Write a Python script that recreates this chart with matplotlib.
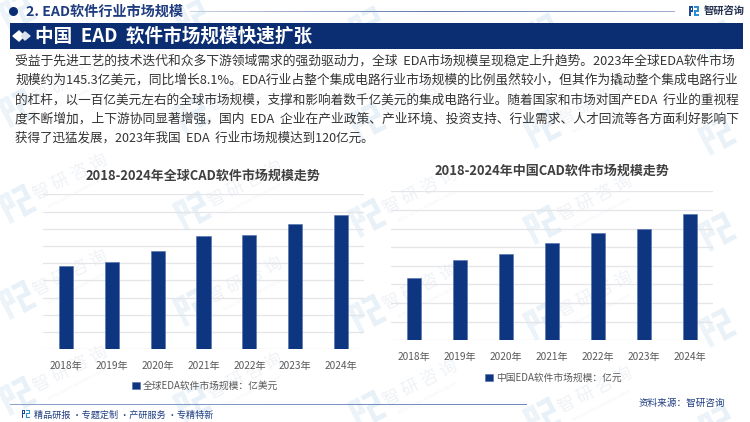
import matplotlib
matplotlib.use('Agg')
import matplotlib.pyplot as plt
from matplotlib.colors import LinearSegmentedColormap
from matplotlib.patches import Rectangle, Circle, Polygon
from matplotlib.transforms import Affine2D
import numpy as np

plt.rcParams['font.family'] = ['Noto Sans CJK SC', 'DejaVu Sans']

## data
years = ['2018年', '2019年', '2020年', '2021年', '2022年', '2023年', '2024年']
world_values = [96.4, 101.8, 114.2, 132.0, 133.2, 145.3, 156.4]
china_values = [66.9, 85.9, 92.7, 104.8, 115.6, 120.0, 135.6]
world_title = '2018-2024年全球CAD软件市场规模走势'
china_title = '2018-2024年中国CAD软件市场规模走势'
world_label = '全球EDA软件市场规模：亿美元'
china_label = '中国EDA软件市场规模：亿元'
paragraph = [
    '受益于先进工艺的技术迭代和众多下游领域需求的强劲驱动力，全球  EDA市场规模呈现稳定上升趋势。2023年全球EDA软件市场',
    '规模约为145.3亿美元，同比增长8.1%。EDA行业占整个集成电路行业市场规模的比例虽然较小，但其作为撬动整个集成电路行业',
    '的杠杆，以一百亿美元左右的全球市场规模，支撑和影响着数千亿美元的集成电路行业。随着国家和市场对国产EDA  行业的重视程',
    '度不断增加，上下游协同显著增强，国内  EDA  企业在产业政策、产业环境、投资支持、行业需求、人才回流等各方面利好影响下',
    '获得了迅猛发展，2023年我国  EDA  行业市场规模达到120亿元。',
]

W, H = 750, 422
NAVY = '#0b2d71'
BAR = '#0d3580'
fig = plt.figure(figsize=(W / 100, H / 100), dpi=100)

# whole-figure canvas in pixel coordinates
bg = fig.add_axes([0, 0, 1, 1], zorder=0)
bg.set_xlim(0, W)
bg.set_ylim(H, 0)
bg.axis('off')


def logo(ax, x, y, s, c1, c2, zorder=1, tr=None):
    ## little square logo, rough shape only
    tr = (tr or Affine2D()) + ax.transData
    parts = [(0, 0, 0.42, 0.16, c1), (0, 0, 0.16, 1, c1), (0.26, 0, 0.16, 0.55, c1),
             (0, 0.4, 0.42, 0.15, c1), (0.52, 0, 0.48, 0.16, c2), (0.84, 0, 0.16, 0.55, c2),
             (0.52, 0.4, 0.48, 0.15, c2), (0.52, 0.4, 0.16, 0.6, c2), (0.52, 0.84, 0.48, 0.16, c2)]
    for px, py, pw, ph, c in parts:
        ax.add_patch(Rectangle((x + px * s, y + py * s), pw * s, ph * s, color=c, lw=0,
                               zorder=zorder, transform=tr))


# watermark tiles, only texts that stay inside the picture
for ty0 in [11, 107, 203, 299, 395]:
    for tx in [17, 192, 367, 542, 717]:
        ty = ty0 + 0.04 * tx
        rot = Affine2D().rotate_deg_around(tx, ty, -27)
        logo(bg, tx - 15, ty - 15, 30, '#ecf3f9', '#e8f1f8', 1, rot)
        if 40 < ty - 26 < 395 and tx + 53 < 710:
            bg.text(tx + 53, ty - 26, '智 研 咨 询', fontsize=12.5, color='#eff2f6', rotation=27,
                    ha='center', va='center', zorder=1)
            bg.text(tx + 60, ty - 11, 'INTELLIGENCE RESEARCH GROUP', fontsize=3, color='#f0f3f7',
                    rotation=27, ha='center', va='center', zorder=1)

# header
bg.add_patch(Circle((13.5, 11.5), 3.8, color=NAVY, zorder=3))
bg.text(26, 11.5, '2. EAD软件行业市场规模', fontsize=10.2, fontweight='bold', color='#1f3d80',
        va='center', zorder=3)
grad = np.linspace(0, 1, 200).reshape(1, -1)
bg.imshow(grad, extent=[190, 675, 12, 11], aspect='auto', zorder=3,
          cmap=LinearSegmentedColormap.from_list('l', ['#c8d3e6', '#5f78ab', '#9fb0d0']))
logo(bg, 689, 6, 10, '#1f4a96', '#2c8fd0', 3)
bg.text(704, 11, '智研咨询', fontsize=7.4, fontweight='bold', color='#24304f', va='center', zorder=3)

# banner
bg.add_patch(Rectangle((9.5, 23), 733, 26, color=NAVY, lw=0, zorder=3))
bg.add_patch(Polygon([(13, 36), (19, 31), (24, 36), (19, 41)], closed=True, color='white', zorder=4))
bg.add_patch(Polygon([(21, 36), (25, 32), (30, 36), (25, 40)], closed=True, color='#dbe2ee', zorder=4))
bg.text(35, 36, '中国  EAD  软件市场规模快速扩张', fontsize=13.4, fontweight='bold', color='white',
        va='center', zorder=4)

# paragraph, first four lines stretched to the same width
line_y = [61, 80.5, 100, 119, 138]
fig.canvas.draw()
rend = fig.canvas.get_renderer()
for i, (s, y) in enumerate(zip(paragraph, line_y)):
    t = bg.text(15, y, s, fontsize=8.6, color='#333333', va='center', zorder=3)
    if i < 4:
        t.set_fontsize(8.6 * 720 / t.get_window_extent(rend).width)
    else:
        t.set_fontsize(8.6 * 358 / t.get_window_extent(rend).width)


def px_axes(x0, x1, y_top, y_bot):
    return fig.add_axes([x0 / W, 1 - y_bot / H, (x1 - x0) / W, (y_bot - y_top) / H], zorder=2)


def bar_chart(box, values, ymax, title, title_xy, label, legend_xy):
    ax = px_axes(*box)
    ax.patch.set_alpha(0)
    x = np.arange(len(years))
    ax.bar(x, values, width=0.31, color=BAR, edgecolor='#4f70ad', linewidth=0.4, label=label, zorder=3)
    ax.set_xlim(-0.5, len(years) - 0.5)
    ax.set_ylim(0, ymax)
    ax.set_yticks(np.arange(0, ymax + 1, 20))
    ax.set_yticklabels([])
    ax.set_xticks(x)
    ax.set_xticklabels(years, fontsize=7.3, color='#595959')
    ax.tick_params(axis='both', length=0)
    ax.tick_params(axis='x', pad=8.5)
    ax.grid(axis='y', color='#e3e5e9', linewidth=0.9, zorder=0)
    for sp in ax.spines.values():
        sp.set_visible(False)
    ax.legend(loc='center', bbox_to_anchor=(legend_xy[0] / W, 1 - legend_xy[1] / H),
              bbox_transform=fig.transFigure, frameon=False, fontsize=7, handlelength=0.75,
              handleheight=0.75, handletextpad=0.35, labelcolor='#595959')
    bg.text(title_xy[0], title_xy[1], title, fontsize=9.35, fontweight='bold', color='#404040',
            ha='center', va='center', zorder=3)
    return ax


bar_chart((43, 364, 194.3, 349.3), world_values, 180, world_title, (203, 176), world_label, (205.5, 385.5))
bar_chart((390.7, 712.7, 191.3, 340.3), china_values, 160, china_title, (552, 171), china_label, (553.5, 377.5))

# footer
bg.imshow(grad, extent=[10, 527, 404.6, 403.6], aspect='auto', zorder=3,
          cmap=LinearSegmentedColormap.from_list('f', ['#8ea3cc', '#6f88ba']))
bg.set_xlim(0, W)
bg.set_ylim(H, 0)
logo(bg, 22, 410, 8, '#1f4a96', '#2c8fd0', 3)
bg.text(34, 415, '精品研报 ·专题定制 ·产研服务 ·专精特新', fontsize=6.55, color='#1f3d80', va='center', zorder=3)
bg.text(725, 403, '资料来源：智研咨询', fontsize=6.9, color='#1f3d80', ha='right', va='center', zorder=3)

fig.savefig('out.png', dpi=100)
